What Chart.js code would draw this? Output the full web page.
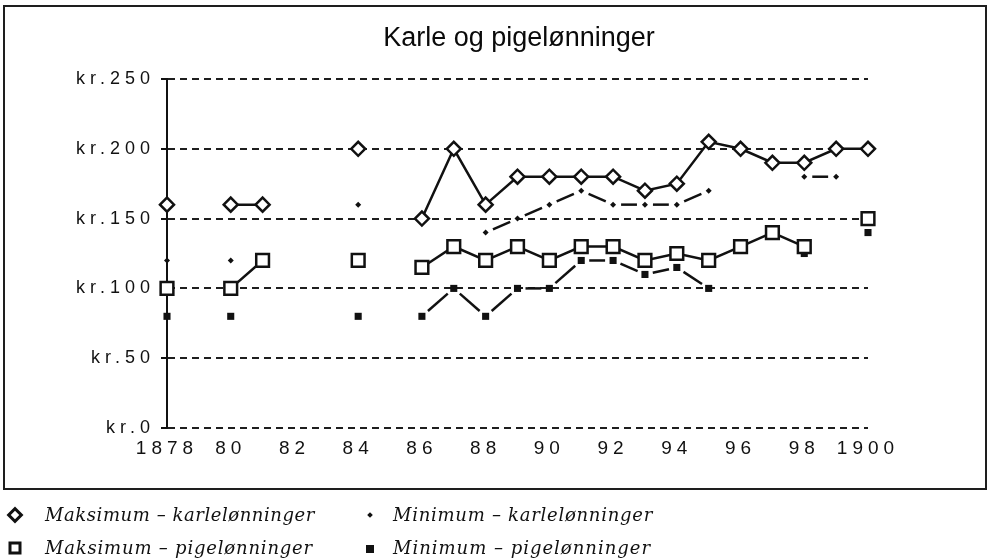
<!DOCTYPE html>
<html>
<head>
<meta charset="utf-8">
<script src="https://cdn.jsdelivr.net/npm/chart.js@4.4.1/dist/chart.umd.min.js"></script>
<style>
  html, body { margin: 0; padding: 0; background: #fff; }
  body { width: 988px; height: 558px; position: relative; overflow: hidden; }
  #frame { position: absolute; left: 3px; top: 5px; width: 984px; height: 485px; border: 2px solid #1e1e1e; box-sizing: border-box; }
  #chart { position: absolute; left: 0; top: 0; }
  #title { position: absolute; left: 519px; top: 24px; transform: translateX(-50%); font: 27px/27px "Liberation Sans", Arial, sans-serif; color: #0a0a0a; white-space: nowrap; }
  .leg { position: absolute; font: italic 18px/18px "DejaVu Serif", serif; color: #111; white-space: nowrap; }
  .mk { position: absolute; box-sizing: border-box; transform: translate(-50%, -50%); }
</style>
</head>
<body>
<div id="frame"></div>
<canvas id="chart" width="988" height="558"></canvas>
<div id="title">Karle og pigelønninger</div>

<div class="mk" style="left:15px;top:515px;width:12px;height:12px;border:3.5px solid #111;transform:translate(-50%,-50%) rotate(45deg);"></div>
<div class="leg" data-w="270" style="left:45px;top:506px;">Maksimum – karlelønninger</div>
<div class="mk" style="left:15px;top:548px;width:13px;height:13px;border:3px solid #111;"></div>
<div class="leg" data-w="268" style="left:45px;top:539px;">Maksimum – pigelønninger</div>
<div class="mk" style="left:370px;top:515px;width:4px;height:4px;background:#111;transform:translate(-50%,-50%) rotate(45deg);"></div>
<div class="leg" data-w="260" style="left:393px;top:506px;">Minimum – karlelønninger</div>
<div class="mk" style="left:370px;top:549px;width:8px;height:8px;background:#111;"></div>
<div class="leg" data-w="258" style="left:393px;top:539px;">Minimum – pigelønninger</div>

<script>
// aar og lonninger (kr.) aflaest af figuren, null = ingen oplysning
const years = [1878, 1879, 1880, 1881, 1882, 1883, 1884, 1885, 1886, 1887, 1888, 1889,
               1890, 1891, 1892, 1893, 1894, 1895, 1896, 1897, 1898, 1899, 1900];
const maksKarle = [160, null, 160, 160, null, null, 200, null, 150, 200, 160, 180,
                   180, 180, 180, 170, 175, 205, 200, 190, 190, 200, 200];
const minKarle  = [120, null, 120, null, null, null, 160, null, null, null, 140, 150,
                   160, 170, 160, 160, 160, 170, null, null, 180, 180, null];
const maksPige  = [100, null, 100, 120, null, null, 120, null, 115, 130, 120, 130,
                   120, 130, 130, 120, 125, 120, 130, 140, 130, null, 150];
const minPige   = [80, null, 80, null, null, null, 80, null, 80, 100, 80, 100,
                   100, 120, 120, 110, 115, 100, null, null, 125, null, 140];

const xTicks = ['1878', '80', '82', '84', '86', '88', '90', '92', '94', '96', '98', '1900'];
const yTicks = ['kr.0', 'kr.50', 'kr.100', 'kr.150', 'kr.200', 'kr.250'];

const ink = '#111';
const pts = arr => years.map((x, i) => ({ x: x, y: arr[i] }));

// en streg midt paa hvert linjestykke, med luft ved punkterne
const GAP = 8;
const segLen = c => Math.hypot(c.p1.x - c.p0.x, c.p1.y - c.p0.y);
const dashedSeg = {
  borderDash: c => [Math.max(segLen(c) - 2 * GAP, 2), 200],
  borderDashOffset: c => Math.max(segLen(c) - 2 * GAP, 2) + 200 - GAP
};

// bredere tegnafstand som i originalen
const spacing = {
  id: 'spacing',
  beforeLayout(chart) { chart.ctx.letterSpacing = '5px'; },
  beforeDraw(chart) { chart.ctx.letterSpacing = '5px'; }
};

new Chart(document.getElementById('chart'), {
  type: 'line',
  data: {
    datasets: [
      {
        label: 'Maksimum – karlelønninger',
        data: pts(maksKarle),
        borderColor: ink, borderWidth: 2.5,
        pointStyle: 'rectRot', pointRadius: 7, pointBorderWidth: 2.5,
        pointBackgroundColor: '#fff', pointBorderColor: ink
      },
      {
        label: 'Maksimum – pigelønninger',
        data: pts(maksPige),
        borderColor: ink, borderWidth: 2.5,
        pointStyle: 'rect', pointRadius: 9, pointBorderWidth: 2.5,
        pointBackgroundColor: '#fff', pointBorderColor: ink
      },
      {
        label: 'Minimum – karlelønninger',
        data: pts(minKarle),
        borderColor: ink, borderWidth: 2.5,
        segment: dashedSeg,
        pointStyle: 'rectRot', pointRadius: 3, pointBorderWidth: 0,
        pointBackgroundColor: ink
      },
      {
        label: 'Minimum – pigelønninger',
        data: pts(minPige),
        borderColor: ink, borderWidth: 2.5,
        segment: dashedSeg,
        pointStyle: 'rect', pointRadius: 5, pointBorderWidth: 0,
        pointBackgroundColor: ink
      }
    ]
  },
  options: {
    responsive: false,
    animation: false,
    clip: false,
    layout: { padding: { top: 79, right: 120, bottom: 100, left: 0 } },
    elements: { line: { tension: 0 } },
    plugins: { legend: { display: false }, title: { display: false }, tooltip: { enabled: false } },
    scales: {
      x: {
        type: 'linear', min: 1878, max: 1900,
        grid: { display: false, drawTicks: false },
        border: { display: false },
        ticks: {
          stepSize: 2, padding: 9, color: ink, maxRotation: 0, autoSkip: false,
          font: { family: 'Liberation Sans', size: 19 },
          callback: (v, i) => xTicks[i]
        },
        afterFit: s => { s.height = 30; }
      },
      y: {
        min: 0, max: 250,
        grid: { color: '#1e1e1e', lineWidth: 2, tickLength: 6, tickWidth: 2, tickColor: ink },
        border: { display: true, color: ink, width: 2, dash: [7, 5] },
        ticks: {
          stepSize: 50, padding: 6, color: ink,
          font: { family: 'Liberation Sans', size: 18 },
          callback: (v, i) => yTicks[i]
        },
        afterFit: s => { s.width = 167; }
      }
    }
  },
  plugins: [spacing]
});

// tilpas signaturteksternes bredde
document.querySelectorAll('.leg').forEach(el => {
  const w = el.getBoundingClientRect().width;
  el.style.letterSpacing = ((+el.dataset.w - w) / el.textContent.length) + 'px';
});
</script>
</body>
</html>
